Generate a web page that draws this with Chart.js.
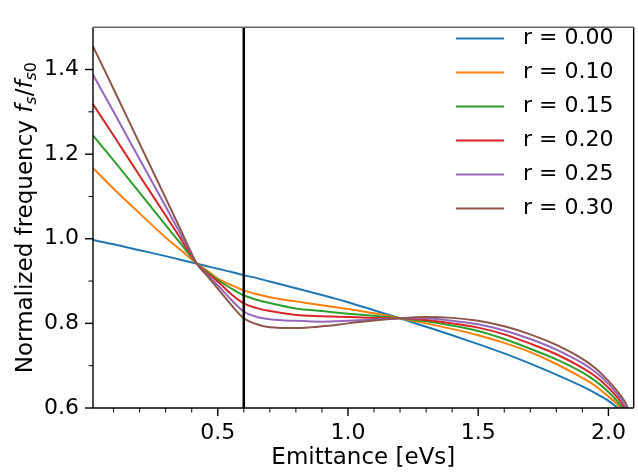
<!DOCTYPE html>
<html>
<head>
<meta charset="utf-8">
<title>Normalized frequency vs emittance</title>
<script src="https://cdn.jsdelivr.net/npm/chart.js@4.4.1/dist/chart.umd.min.js"></script>
<style>
  html, body { margin: 0; padding: 0; background: #fff; }
  #wrap { width: 638px; height: 472px; }
</style>
</head>
<body>
<div id="wrap"><canvas id="grafico" width="638" height="472"></canvas></div>
<script>
// valores (emitância em eVs, frequência normalizada)
const emittance = [0.02, 0.1, 0.2, 0.3, 0.36, 0.42, 0.46, 0.5, 0.55, 0.6, 0.65, 0.7, 0.8, 0.9,
  1.0, 1.1, 1.2, 1.3, 1.4, 1.5, 1.6, 1.7, 1.8, 1.9, 1.95, 2.0, 2.03, 2.05, 2.065];

const rLabels = ['r = 0.00', 'r = 0.10', 'r = 0.15', 'r = 0.20', 'r = 0.25', 'r = 0.30'];

// null = a curva já saiu pelo fundo do eixo
const f_r000 = [0.997, 0.987, 0.973, 0.959, 0.950, 0.941, 0.935, 0.929, 0.922, 0.914, 0.907, 0.899, 0.883, 0.867,
  0.850, 0.831, 0.812, 0.792, 0.772, 0.751, 0.729, 0.705, 0.679, 0.651, 0.635, 0.617, 0.603, null, null];
const f_r010 = [1.168, 1.118, 1.060, 1.003, 0.972, 0.941, 0.924, 0.906, 0.891, 0.878, 0.869, 0.862, 0.852, 0.843,
  0.834, 0.824, 0.812, 0.800, 0.787, 0.772, 0.754, 0.732, 0.704, 0.671, 0.652, 0.627, 0.611, null, null];
const f_r015 = [1.245, 1.185, 1.109, 1.032, 0.987, 0.941, 0.922, 0.903, 0.883, 0.866, 0.856, 0.848, 0.835, 0.829,
  0.823, 0.818, 0.812, 0.805, 0.795, 0.782, 0.763, 0.740, 0.715, 0.684, 0.664, 0.638, 0.619, 0.604, null];
const f_r020 = [1.319, 1.244, 1.149, 1.055, 0.998, 0.941, 0.919, 0.899, 0.870, 0.847, 0.836, 0.829, 0.820, 0.817,
  0.815, 0.813, 0.812, 0.808, 0.800, 0.790, 0.774, 0.752, 0.727, 0.695, 0.675, 0.648, 0.628, 0.612, null];
const f_r025 = [1.389, 1.300, 1.188, 1.076, 1.008, 0.941, 0.915, 0.890, 0.857, 0.828, 0.815, 0.810, 0.806, 0.804,
  0.806, 0.809, 0.812, 0.812, 0.806, 0.798, 0.783, 0.763, 0.738, 0.706, 0.685, 0.657, 0.636, 0.620, null];
const f_r030 = [1.456, 1.354, 1.225, 1.096, 1.018, 0.941, 0.912, 0.882, 0.845, 0.812, 0.798, 0.791, 0.789, 0.793,
  0.800, 0.807, 0.812, 0.815, 0.813, 0.806, 0.793, 0.774, 0.749, 0.716, 0.694, 0.664, 0.643, 0.627, 0.613];

// emitância onde cada curva chega ao fundo do eixo (0.6)
const endEmittance = [2.035, 2.048, 2.055, 2.061, 2.067, 2.074];
const endFreq = 0.6;

const cutEmittance = 0.6; // linha vertical preta

const xTicks = [0.5, 1.0, 1.5, 2.0];
const yTicks = [0.6, 0.8, 1.0, 1.2, 1.4];

const cores = ['#1f77b4', '#ff7f0e', '#2ca02c', '#d62728', '#9467bd', '#8c564b'];
const FONTE = "'DejaVu Sans', sans-serif";

const series = [f_r000, f_r010, f_r015, f_r020, f_r025, f_r030];

const datasets = series.map((vals, i) => ({
  label: rLabels[i],
  data: emittance.map((x, k) => ({ x, y: vals[k] }))
    .filter(p => p.y !== null && p.x < endEmittance[i])
    .concat([{ x: endEmittance[i], y: endFreq }]),
  borderColor: cores[i],
  borderWidth: 2,
  pointRadius: 0,
  fill: false,
  cubicInterpolationMode: 'monotone',
  order: series.length - i
}));

datasets.push({
  label: 'corte',
  data: [{ x: cutEmittance, y: 0.6 }, { x: cutEmittance, y: 1.5 }],
  borderColor: '#000',
  borderWidth: 2.5,
  pointRadius: 0,
  order: 0
});

// ticks, molduras, legenda e título do eixo y (com subscritos)
const enfeites = {
  id: 'enfeites',
  afterDraw(chart) {
    const { ctx, chartArea: a, scales: { x, y } } = chart;
    const linha = (x1, y1, x2, y2) => { ctx.beginPath(); ctx.moveTo(x1, y1); ctx.lineTo(x2, y2); ctx.stroke(); };
    ctx.save();
    ctx.strokeStyle = '#000';

    // ticks maiores
    ctx.lineWidth = 1.4;
    xTicks.forEach(v => { const p = x.getPixelForValue(v); linha(p, a.bottom, p, a.bottom + 8); });
    yTicks.forEach(v => { const p = y.getPixelForValue(v); linha(a.left - 8, p, a.left, p); });

    // ticks menores (passo 0.1)
    ctx.lineWidth = 1;
    for (let k = 1; k <= 20; k++) {
      const v = k / 10;
      if (k % 5 === 0 || v < x.min || v > x.max) continue;
      const p = x.getPixelForValue(v);
      linha(p, a.bottom, p, a.bottom + 4.5);
    }
    for (let k = 7; k <= 13; k += 2) {
      const p = y.getPixelForValue(k / 10);
      linha(a.left - 4.5, p, a.left, p);
    }

    // moldura (a de cima sai mais clara no original)
    ctx.lineWidth = 1.4;
    linha(a.left, a.top, a.left, a.bottom);
    linha(a.left, a.bottom, a.right, a.bottom);
    linha(a.right, a.top, a.right, a.bottom);
    ctx.strokeStyle = '#666';
    linha(a.left, a.top, a.right, a.top);

    // legenda
    ctx.font = '22px ' + FONTE;
    ctx.textBaseline = 'middle';
    ctx.textAlign = 'left';
    rLabels.forEach((txt, i) => {
      const yy = 38.5 + i * 34;
      ctx.strokeStyle = cores[i];
      ctx.lineWidth = 2;
      linha(456, yy, 504, yy);
      ctx.fillStyle = '#000';
      ctx.fillText(txt, 523, yy);
    });

    // título do eixo y: Normalized frequency f_s/f_s0
    const partes = [
      { t: 'Normalized frequency ', f: '23px ' + FONTE, dy: 0 },
      { t: 'f', f: 'italic 23px ' + FONTE, dy: 0 },
      { t: 's', f: 'italic 16px ' + FONTE, dy: 4 },
      { t: '/', f: '23px ' + FONTE, dy: 0 },
      { t: 'f', f: 'italic 23px ' + FONTE, dy: 0 },
      { t: 's', f: 'italic 16px ' + FONTE, dy: 4 },
      { t: '0', f: '16px ' + FONTE, dy: 4 }
    ];
    let total = 0;
    partes.forEach(p => { ctx.font = p.f; p.w = ctx.measureText(p.t).width; total += p.w; });
    ctx.translate(32, (a.top + a.bottom) / 2);
    ctx.rotate(-Math.PI / 2);
    ctx.textBaseline = 'alphabetic';
    ctx.fillStyle = '#000';
    let cx = -total / 2;
    partes.forEach(p => { ctx.font = p.f; ctx.fillText(p.t, cx, p.dy); cx += p.w; });
    ctx.restore();
  }
};

new Chart(document.getElementById('grafico'), {
  type: 'line',
  data: { datasets },
  options: {
    responsive: false,
    animation: false,
    layout: { padding: { top: 8, right: 2, left: 0, bottom: 0 } },
    plugins: { legend: { display: false }, tooltip: { enabled: false } },
    scales: {
      x: {
        type: 'linear',
        min: 0.021,
        max: 2.097,
        afterBuildTicks: s => { s.ticks = xTicks.map(v => ({ value: v })); },
        afterFit: s => { s.height = 64; },
        grid: { display: false, drawTicks: false },
        border: { display: false },
        ticks: {
          padding: 12,
          color: '#000',
          font: { family: FONTE, size: 22 },
          maxRotation: 0,
          autoSkip: false,
          callback: v => Number(v).toFixed(1)
        },
        title: {
          display: true,
          text: 'Emittance [eVs]',
          color: '#000',
          font: { family: FONTE, size: 23 },
          padding: { top: 0, bottom: 0 }
        }
      },
      y: {
        type: 'linear',
        min: 0.6,
        max: 1.5,
        afterBuildTicks: s => { s.ticks = yTicks.map(v => ({ value: v })); },
        afterFit: s => { s.width = 93; },
        grid: { display: false, drawTicks: false },
        border: { display: false },
        ticks: {
          padding: 14,
          color: '#000',
          font: { family: FONTE, size: 22 },
          autoSkip: false,
          callback: v => Number(v).toFixed(1)
        }
      }
    }
  },
  plugins: [enfeites]
});
</script>
</body>
</html>
